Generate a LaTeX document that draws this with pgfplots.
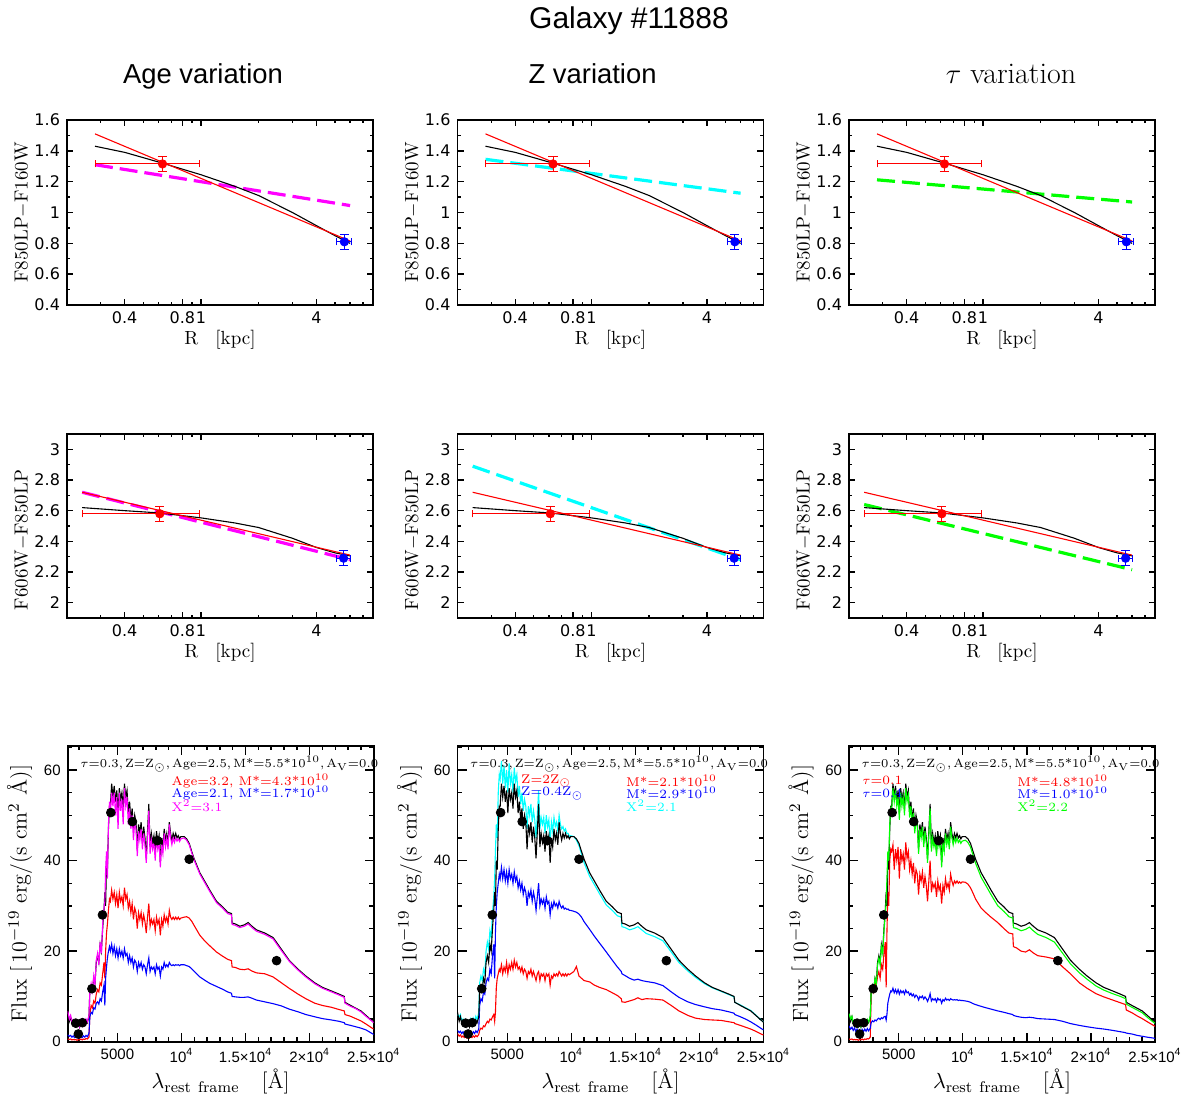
\documentclass[border=0pt]{standalone}
\usepackage{fontspec}
\usepackage{pgfplots}
\usepackage{pgfplotstable}
\pgfplotsset{compat=1.18}
\newfontfamily\hv{Liberation Sans}
\newfontfamily\tk{DejaVu Sans}
\definecolor{mgt}{RGB}{255,0,255}
\definecolor{cyn}{RGB}{0,255,255}
\definecolor{grn}{RGB}{0,255,0}

\pgfplotstableread{
l k a1 a2 m z1 z2 c t1 t2 g
1120 6.5 0.6 1.5 6.8 1.8 2.5 6.0 0.6 3.5 6.2
1250 4.5 0.5 1.2 5.0 1.2 2.0 5.5 0.5 2.8 5.0
1350 5.5 0.6 1.4 5.8 1.5 2.3 6.0 0.6 3.2 5.6
1450 4.0 0.4 1.0 4.2 1.0 1.8 4.5 0.4 2.5 4.2
1550 4.6 0.5 1.3 4.8 1.3 2.2 5.0 0.5 3.0 4.7
1650 3.5 0.4 0.9 3.8 0.9 1.7 4.0 0.4 2.3 3.6
1750 4.2 0.5 1.2 4.5 1.2 2.0 4.8 0.5 2.8 4.4
1850 3.3 0.3 0.8 3.5 0.8 1.5 3.8 0.3 2.0 3.4
1950 4.0 0.5 1.1 4.3 1.1 1.9 4.6 0.5 2.6 4.1
2050 3.2 0.4 0.8 3.3 0.8 1.4 3.6 0.4 2.0 3.3
2150 4.3 0.6 1.2 4.6 1.2 2.0 5.0 0.6 2.7 4.4
2250 3.6 0.4 0.9 3.8 0.9 1.6 4.2 0.4 2.2 3.7
2350 4.5 0.6 1.3 4.8 1.3 2.2 5.2 0.6 2.8 4.6
2450 3.8 0.5 1.0 4.0 1.0 1.8 4.5 0.5 2.3 3.9
2550 4.8 0.7 1.4 5.0 1.4 2.4 5.6 0.7 2.9 4.9
2650 4.2 0.6 1.1 4.4 1.1 2.0 4.9 0.6 2.4 4.3
2780 5.5 1.0 1.8 5.8 1.6 2.8 6.5 1.0 3.0 5.6
2850 11.5 6.0 5.5 11.0 2.5 8.0 13.0 10.5 4.2 11.2
2950 12.5 8.0 6.5 12.8 3.0 9.5 14.5 12.0 4.6 12.3
3050 11.5 7.5 6.2 11.2 2.8 9.0 13.5 11.0 4.4 11.5
3150 14.0 9.0 7.5 14.5 3.5 11.0 16.0 13.0 4.8 14.0
3250 13.0 8.5 7.2 12.5 3.3 10.5 15.0 12.5 4.6 12.8
3350 17.5 10.5 8.5 18.0 4.0 13.0 20.0 14.5 5.0 17.0
3450 19.0 11.5 8.8 19.5 4.5 14.0 22.0 15.5 5.2 18.5
3550 17.5 11.0 8.3 17.0 4.2 13.5 20.5 14.0 4.9 17.0
3650 21.5 13.0 9.5 22.0 5.0 16.0 24.5 17.0 5.3 21.0
3750 20.0 12.5 9.0 19.5 4.8 15.0 23.0 16.0 5.1 19.5
3850 25.0 15.0 11.0 26.0 5.5 19.0 28.5 19.5 5.5 24.5
3950 29.0 17.5 12.5 29.5 6.0 21.5 32.0 22.0 5.6 28.0
4020 33.0 14.0 8.0 31.0 4.5 14.0 36.0 12.0 4.8 31.0
4080 30.0 20.0 14.0 38.0 6.5 24.0 42.0 24.0 6.0 36.0
4150 40.0 24.0 16.5 42.0 12.0 30.0 48.0 33.0 8.5 42.0
4220 38.0 26.0 18.5 36.0 14.0 33.0 45.0 30.0 9.5 40.0
4300 47.0 29.0 20.0 48.0 15.0 35.0 55.0 40.0 10.5 48.0
4380 52.0 31.5 21.0 53.0 16.0 37.0 59.0 42.5 11.2 51.5
4450 52 31 20 50 15.5 36 58 42 11 51
4550 57 33.5 21.5 55 17 38.5 62 43.5 11.8 56
4650 54 31.5 19.5 52 15 36 57 38 10.8 53
4750 56.5 33 21 55 16.5 38 61 42.5 11.5 55.5
4850 53 30.5 19 50 15.5 35.5 56 40 10.7 52
4950 55.5 32.5 20.5 54 17.5 37.5 60 43 11.5 54
5050 50.5 29.5 18.5 47 15 35 55 36 10.5 49
5150 56 33 20.5 55 17 38 61.5 42.5 11.3 55
5250 53.5 31 19 51 16 36 57 40 10.8 52
5350 55 32 20 53.5 17.5 37 59 41.5 11.2 54
5450 51.5 30 18.5 48 16 35 55 38 10.5 50
5550 57 34 20.5 56 18 37.5 60.5 44 11.4 56
5650 54 31.5 19 52 16.5 35.5 57.5 40.5 10.8 53
5750 55.5 32.5 19.5 54 17.5 36.5 59 42 11 54.5
5850 50.5 29.5 17.5 48 16 34 54 38 10.3 49.5
5950 53 31 19 51.5 16.5 35.5 56.5 40 10.7 52
6050 49 28.5 17.5 47 15.5 33.5 52.5 37 10.1 48
6150 51.5 30.5 18.5 50 16.5 35 55 39.5 10.5 50.5
6250 47 27 16.5 44.5 15 32.5 51 35 9.8 46
6350 50 29.5 18 48.5 16 34 53.5 38 10.3 49
6450 48.5 28.5 17.5 47 15.5 33 52 37 10 47.5
6550 42.5 25 15.5 41 14 30 47 32.5 9.2 41.5
6650 48 28.5 17.5 46.5 15.5 33 52 37 10 47
6750 46 27 16.5 44.5 15 32 50 35.5 9.7 45
6850 48.5 28.5 17.5 47 16 33.5 52.5 37.5 10.1 47.5
6950 44 26 16 42.5 14.5 31 48.5 34 9.4 43
7050 47.5 28 17 46 15.5 33 51 36.5 9.9 46.5
7150 45 26.5 16.5 43.5 14.5 31.5 49 34.5 9.5 44
7250 40.5 24 15 39.5 13.5 29 45 31 8.9 39.5
7350 46.5 27.5 17 45 15 32 50 35.5 9.6 45.5
7450 52.5 30.5 18.5 51 15.5 35 55.5 40 10.6 51.5
7550 43 25.5 15.5 41.5 13.5 30 47 33 9 42
7650 46 27 16.5 44.5 15 31.5 49.5 35 9.5 45
7750 44 26 16 42.5 14.5 30.5 48 34 9.2 43
7850 45.5 27 16.5 44 15 31.5 49.5 35 9.5 44.5
7950 42 24.5 15 40 13.5 29.5 46 32 8.8 41
8050 46.5 27.5 17 45 15 32 50 35.5 9.6 45.5
8150 44 26 16 42.5 14.5 30.5 47.5 33.5 9.2 43
8250 45.5 27 16.5 44 15 31 49 34.5 9.4 44.5
8350 39.5 23.5 14.5 38.5 12.5 28 44 30.5 8.5 38.5
8450 45 27 16.5 43.5 14.5 30.5 48.5 34.5 9.3 44
8550 43 25.5 16 41.5 14 29.5 46.5 33 9 42
8650 47 28 17.5 46 15 31 49.5 36 9.6 46
8750 44.5 26.5 16.5 43 14.5 30 47.5 34 9.2 43.5
8850 46 27.5 17 45 15 30.5 48.5 35 9.4 45
8950 43.5 26 16.5 42.5 14.5 29.5 46.5 33.5 9.1 42.5
9050 48.5 29 17.5 48 15.5 31 50 37 9.5 47.5
9150 46 27.5 17 45 15 30 48 35.5 9.3 45
9250 44.5 27 16.8 43.5 14.5 29.5 47 34.5 9.2 43.5
9350 46 27.5 17 45 15 30 47.5 35.5 9.3 45
9450 45 27 16.8 44 14.5 29.3 46.5 35 9.2 44
9550 46 27.5 17 45 15 29.5 47 35.5 9.3 45
9650 45 27 16.9 44.3 14.5 29.2 46 35 9.1 44
9750 45.5 27.5 17 44.8 15 29.3 46 35.3 9.2 44.5
9850 44.8 27 16.8 44.2 14.8 29 45.3 35 9.1 43.8
9950 45.3 27.3 17 44.8 15 29 45.5 35.3 9.1 44.3
10200 45.3 27.5 17.0 45.0 15.5 28.8 45.3 35.2 9.0 44.5
10400 44.8 27.6 16.8 44.5 16.6 28.6 44.5 34.8 8.9 44.0
10600 43.8 27.3 16.6 43.5 14.5 28.2 43.3 34.0 8.7 43.0
10800 42.0 26.6 16.1 41.7 14.0 27.5 41.4 32.8 8.4 41.2
11000 40.3 25.6 15.5 40.0 13.5 26.5 39.5 31.5 8.2 39.4
11434 37.3 23.5 14.3 37.0 13.2 24.8 36.5 29.5 7.8 36.3
11800 35.5 22.3 13.6 35.2 12.5 23.3 34.7 28.5 7.5 34.5
12200 33.5 21.2 12.9 33.2 12.0 21.8 32.7 27.5 7.2 32.5
12733 31.0 19.8 12.2 30.7 11.5 19.8 30.2 26.3 6.8 30.0
13200 29.8 18.9 11.6 29.5 10.8 18.0 29.0 25.0 6.5 28.8
13600 28.6 18.2 11.0 28.3 10.2 16.5 27.8 24.0 6.2 27.6
13900 28.3 17.9 10.7 28.0 9.5 15.5 27.5 23.8 6.0 27.3
13950 26.2 16.5 10.0 25.9 8.8 15.0 25.4 21.0 5.8 25.2
14200 26.0 16.4 9.9 25.7 8.7 14.6 25.2 20.7 5.6 25.0
14550 25.5 16.0 9.8 25.2 9.0 14.0 24.7 20.0 5.4 24.5
14900 25.8 15.9 9.8 25.5 9.3 13.6 25.0 19.8 5.3 24.8
15200 26.3 16.1 9.9 26.0 9.7 13.8 25.4 20.3 5.4 25.3
15500 25.5 15.6 9.6 25.2 9.3 13.5 24.7 19.6 5.3 24.5
15850 24.7 15.2 9.2 24.4 9.5 13.3 23.9 19.0 5.1 23.7
16500 24.0 15.0 8.8 23.7 9.4 13.0 23.2 18.7 5.0 23.0
17150 23.0 14.3 8.4 22.7 9.2 12.4 22.3 18.3 4.9 22.0
17800 20.4 13.0 7.9 20.1 8.0 11.0 19.8 16.5 4.5 19.5
18400 18.0 11.8 7.2 17.8 6.8 9.8 17.5 15.0 4.0 17.2
19100 16.0 10.5 6.6 15.8 5.8 8.8 15.6 13.0 3.6 15.2
19700 14.5 9.5 6.0 14.3 5.2 8.2 14.2 11.8 3.3 13.8
20400 13.0 8.5 5.5 12.8 4.9 7.7 12.8 10.6 3.0 12.3
21000 12.0 8.0 5.1 11.8 4.8 7.3 11.9 9.9 2.8 11.4
21700 11.2 7.6 4.8 11.0 4.7 7.0 11.1 9.2 2.5 10.6
22300 10.5 7.1 4.5 10.3 4.4 6.6 10.4 8.6 2.2 10.0
22700 10.0 6.8 4.2 9.8 4.2 6.3 9.9 8.2 2.0 9.5
22760 8.7 6.0 3.9 8.5 4.0 6.0 8.7 7.0 1.9 8.3
23200 8.0 5.6 3.6 7.8 3.6 5.5 8.1 6.4 1.7 7.6
23600 7.4 5.1 3.3 7.3 3.2 5.0 7.5 5.7 1.4 7.0
24000 6.8 4.6 3.0 6.6 2.8 4.4 6.9 5.1 1.2 6.4
24400 5.8 3.9 2.6 5.6 2.3 3.7 5.9 4.4 1.0 5.4
24880 4.6 3.0 1.8 4.5 1.6 2.8 4.6 3.6 0.8 4.3
25000 4.3 2.8 1.6 4.2 1.5 2.6 4.4 3.4 0.7 4.1
}\spec

\pgfplotsset{/pgf/number format/assume math mode=true}
\tikzset{mytx/.style={anchor=west, inner sep=0pt, font=\fontsize{6.3}{8}\selectfont}}
\pgfplotsset{
  mybase/.style={scale only axis, width=153pt,
    axis line style={line width=0.9pt},
    every tick/.style={line width=0.7pt, black},
    tick align=inside, tick pos=both, clip mode=individual,
    scaled x ticks=false, scaled y ticks=false},
  myrr/.style={mybase, height=92.5pt, xmin=0.2, xmax=7.9,
    tick label style={font=\tk\fontsize{8}{9}\selectfont},
    xtick={0.4,0.8,1,4}, xticklabels={0.4,0.8,1,4},
    minor xtick={0.3,0.5,0.6,0.7,0.9,2,3,5,6,7},
    major tick length=3.2pt, minor tick length=1.7pt,
    label style={font=\fontsize{9.5}{11}\selectfont},
    xlabel={R\hspace{0.9em}[kpc]},
    xlabel style={at={(axis description cs:0.5,0)}, anchor=center, yshift=-17.5pt},
    ylabel style={at={(axis description cs:0,0.5)}, anchor=center, yshift=22.5pt}},
  myrowa/.style={myrr, ymin=0.4, ymax=1.6, ytick={0.4,0.6,0.8,1,1.2,1.4,1.6},
    minor ytick={0.5,0.7,0.9,1.1,1.3,1.5}, ylabel={F850LP$-$F160W}},
  myrowb/.style={myrr, height=92pt, ymin=1.9, ymax=3.1, ytick={2,2.2,2.4,2.6,2.8,3},
    minor ytick={2.1,2.3,2.5,2.7,2.9}, ylabel={F606W$-$F850LP},
    ylabel style={xshift=-7pt}},
  myspec/.style={mybase, height=147.85pt, xmin=1120, xmax=25000, ymin=0, ymax=65.3,
    tick label style={font=\hv\fontsize{7.5}{9}\selectfont},
    xtick={5000,10000,15000,20000,25000},
    xticklabels={5000,10\textsuperscript{4},1.5×10\textsuperscript{4},2×10\textsuperscript{4},2.5×10\textsuperscript{4}},
    minor xtick={2000,3000,...,24000},
    ytick={0,20,40,60}, minor ytick={5,10,...,65},
    major tick length=4.5pt, minor tick length=2.2pt,
    label style={font=\fontsize{11}{13}\selectfont},
    xlabel={$\lambda_{\mathrm{rest\ frame}}$\hspace{1em}[\AA]},
    ylabel={Flux\hspace{0.3em}[\,10$^{-19}$ erg/(s cm$^2$ \AA)]},
    xlabel style={at={(axis description cs:0.5,0)}, anchor=center, yshift=-20pt},
    ylabel style={at={(axis description cs:0,0.5)}, anchor=center, yshift=24pt}},
  mydsh/.style={line width=1.6pt, dash pattern=on 9pt off 3.5pt},
  mythn/.style={line width=0.55pt},
  mybar/.style={line width=0.5pt},
  mysl/.style={line width=0.55pt}
}

\newcommand\rowone[3]{%
  \addplot[#1, mydsh] coordinates {(0.28,#2) (6.0,#3)};
  \addplot[black, mythn] coordinates {(0.28,1.43) (0.4,1.39) (0.63,1.32) (1.0,1.245) (1.5,1.17) (2.0,1.11) (3.0,1.00) (4.0,0.915) (5.0,0.85) (6.0,0.80)};
  \addplot[red, mythn] coordinates {(0.28,1.51) (6.0,0.815)};
  \addplot[red, mybar] coordinates {(0.28,1.315) (0.98,1.315)};
  \addplot[red, mybar] coordinates {(0.28,1.292) (0.28,1.338)};
  \addplot[red, mybar] coordinates {(0.98,1.292) (0.98,1.338)};
  \addplot[red, mybar] coordinates {(0.63,1.265) (0.63,1.365)};
  \addplot[red, mybar] coordinates {(0.595,1.265) (0.665,1.265)};
  \addplot[red, mybar] coordinates {(0.595,1.365) (0.665,1.365)};
  \addplot[red, only marks, mark=*, mark size=2.1pt] coordinates {(0.63,1.315)};
  \addplot[blue, mybar] coordinates {(5.12,0.81) (6.08,0.81)};
  \addplot[blue, mybar] coordinates {(5.12,0.787) (5.12,0.833)};
  \addplot[blue, mybar] coordinates {(6.08,0.787) (6.08,0.833)};
  \addplot[blue, mybar] coordinates {(5.6,0.76) (5.6,0.86)};
  \addplot[blue, mybar] coordinates {(5.3,0.76) (5.92,0.76)};
  \addplot[blue, mybar] coordinates {(5.3,0.86) (5.92,0.86)};
  \addplot[blue, only marks, mark=*, mark size=2.1pt] coordinates {(5.6,0.81)};
}
\newcommand\rowtwo[3]{%
  \addplot[#1, mydsh] coordinates {(0.24,#2) (6.0,#3)};
  \addplot[black, mythn] coordinates {(0.24,2.62) (0.4,2.60) (0.61,2.585) (1.0,2.553) (1.5,2.52) (2.0,2.49) (3.0,2.42) (4.0,2.36) (5.0,2.325) (6.0,2.305)};
  \addplot[red, mythn] coordinates {(0.24,2.72) (6.0,2.31)};
  \addplot[red, mybar] coordinates {(0.24,2.58) (0.98,2.58)};
  \addplot[red, mybar] coordinates {(0.24,2.557) (0.24,2.603)};
  \addplot[red, mybar] coordinates {(0.98,2.557) (0.98,2.603)};
  \addplot[red, mybar] coordinates {(0.61,2.53) (0.61,2.63)};
  \addplot[red, mybar] coordinates {(0.576,2.53) (0.644,2.53)};
  \addplot[red, mybar] coordinates {(0.576,2.63) (0.644,2.63)};
  \addplot[red, only marks, mark=*, mark size=2.1pt] coordinates {(0.61,2.58)};
  \addplot[blue, mybar] coordinates {(5.10,2.29) (6.0,2.29)};
  \addplot[blue, mybar] coordinates {(5.10,2.267) (5.10,2.313)};
  \addplot[blue, mybar] coordinates {(6.0,2.267) (6.0,2.313)};
  \addplot[blue, mybar] coordinates {(5.55,2.24) (5.55,2.34)};
  \addplot[blue, mybar] coordinates {(5.25,2.24) (5.87,2.24)};
  \addplot[blue, mybar] coordinates {(5.25,2.34) (5.87,2.34)};
  \addplot[blue, only marks, mark=*, mark size=2.1pt] coordinates {(5.55,2.29)};
}
\newcommand\photpts{%
  \addplot[only marks, mark=*, mark size=2.2pt, black] coordinates {
    (1750,4.1) (1950,1.7) (2270,4.2) (3009,11.7) (3833,28.0) (4487,50.6)
    (6168,48.6) (8112,44.4) (10602,40.3) (17420,17.9)};
}
\newcommand\lineone{\node[mytx, font=\fontsize{6}{8}\selectfont] at (rel axis cs:0.04,0.938) {$\tau$=0.3,\,Z=Z$_\odot$,\,Age=2.5,\,M*=5.5*10$^{10}$,\,A$_\mathrm{V}$=0.0};}

\begin{document}
\begin{tikzpicture}
\useasboundingbox (0,0) rectangle (592.5pt,-550.5pt);
\node[anchor=base, font=\hv\fontsize{15}{18}\selectfont] at (314.5pt,-14.2pt) {Galaxy \#11888};
\node[anchor=base, font=\hv\fontsize{13.7}{16}\selectfont] at (101.5pt,-42pt) {Age variation};
\node[anchor=base, font=\hv\fontsize{13.7}{16}\selectfont] at (296.3pt,-42pt) {Z variation};
\node[anchor=base, font=\fontsize{15}{18}\selectfont] at (505.5pt,-42pt) {$\tau$ variation};

% Row 1
\begin{axis}[xmode=log, myrowa, at={(33.5pt,-152.5pt)}, anchor=south west]
\rowone{mgt}{1.31}{1.045}
\end{axis}
\begin{axis}[xmode=log, myrowa, at={(228.75pt,-152.5pt)}, anchor=south west]
\rowone{cyn}{1.345}{1.125}
\end{axis}
\begin{axis}[xmode=log, myrowa, at={(424.5pt,-152.5pt)}, anchor=south west]
\rowone{grn}{1.212}{1.068}
\end{axis}

% Row 2
\begin{axis}[xmode=log, myrowb, at={(33.5pt,-309pt)}, anchor=south west]
\rowtwo{mgt}{2.72}{2.28}
\end{axis}
\begin{axis}[xmode=log, myrowb, at={(228.75pt,-309pt)}, anchor=south west]
\rowtwo{cyn}{2.89}{2.28}
\end{axis}
\begin{axis}[xmode=log, myrowb, at={(424.5pt,-309pt)}, anchor=south west]
\rowtwo{grn}{2.64}{2.215}
\end{axis}

% Row 3
\begin{axis}[myspec, at={(33.85pt,-520.85pt)}, anchor=south west]
\addplot[red, mysl] table[x=l, y=a1] {\spec};
\addplot[blue, mysl] table[x=l, y=a2] {\spec};
\addplot[black, mysl] table[x=l, y=k] {\spec};
\addplot[mgt, mysl] table[x=l, y=m] {\spec};
\photpts
\lineone
\node[mytx, red] at (rel axis cs:0.338,0.882) {Age=3.2,\ M*=4.3*10$^{10}$};
\node[mytx, blue] at (rel axis cs:0.338,0.840) {Age=2.1,\ M*=1.7*10$^{10}$};
\node[mytx, mgt] at (rel axis cs:0.338,0.797) {X$^2$=3.1};
\end{axis}
\begin{axis}[myspec, at={(228.75pt,-520.85pt)}, anchor=south west]
\addplot[red, mysl] table[x=l, y=z1] {\spec};
\addplot[blue, mysl] table[x=l, y=z2] {\spec};
\addplot[cyn, mysl] table[x=l, y=c] {\spec};
\addplot[black, mysl] table[x=l, y=k] {\spec};
\photpts
\lineone
\node[mytx, red] at (rel axis cs:0.207,0.882) {Z=2Z$_\odot$};
\node[mytx, blue] at (rel axis cs:0.207,0.840) {Z=0.4Z$_\odot$};
\node[mytx, red] at (rel axis cs:0.55,0.882) {M*=2.1*10$^{10}$};
\node[mytx, blue] at (rel axis cs:0.55,0.840) {M*=2.9*10$^{10}$};
\node[mytx, cyn] at (rel axis cs:0.55,0.797) {X$^2$=2.1};
\end{axis}
\begin{axis}[myspec, at={(424.5pt,-520.85pt)}, anchor=south west]
\addplot[red, mysl] table[x=l, y=t1] {\spec};
\addplot[blue, mysl] table[x=l, y=t2] {\spec};
\addplot[black, mysl] table[x=l, y=k] {\spec};
\addplot[grn, mysl] table[x=l, y=g] {\spec};
\photpts
\lineone
\node[mytx, red] at (rel axis cs:0.042,0.882) {$\tau$=0.1};
\node[mytx, blue] at (rel axis cs:0.042,0.840) {$\tau$=0.4};
\node[mytx, red] at (rel axis cs:0.549,0.882) {M*=4.8*10$^{10}$};
\node[mytx, blue] at (rel axis cs:0.549,0.840) {M*=1.0*10$^{10}$};
\node[mytx, grn] at (rel axis cs:0.549,0.797) {X$^2$=2.2};
\end{axis}
\end{tikzpicture}
\end{document}
